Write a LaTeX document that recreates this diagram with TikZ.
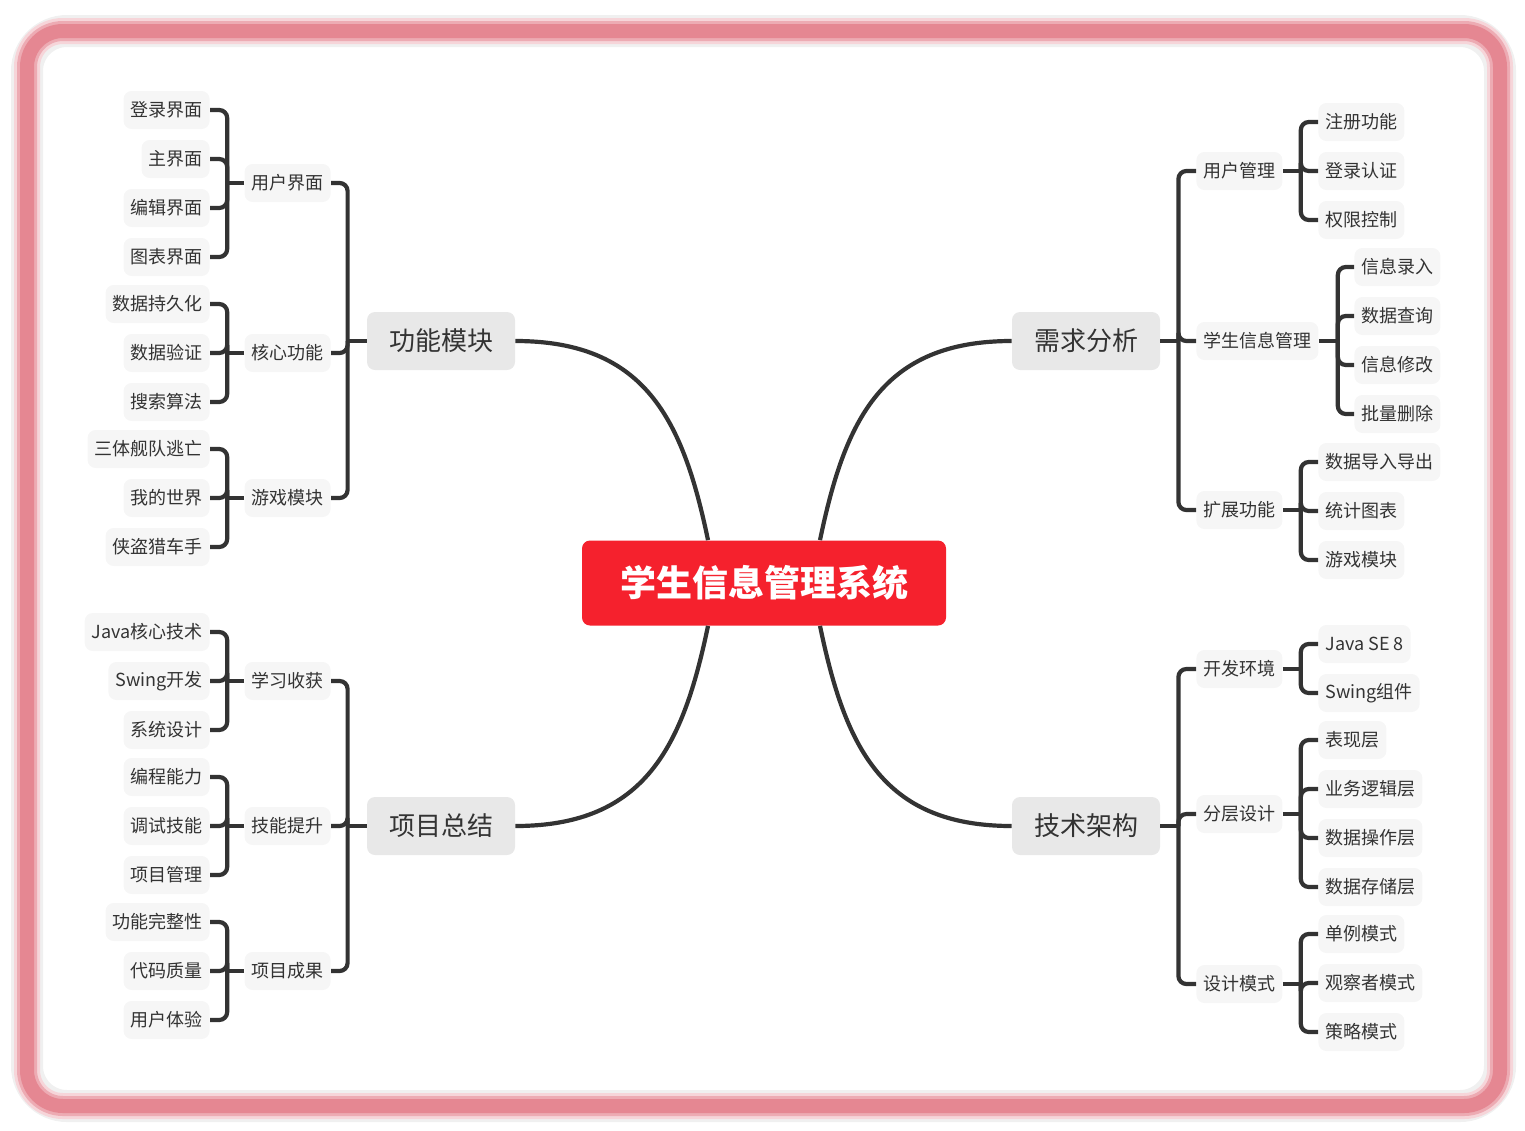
\documentclass[tikz,border=0pt]{standalone}
\usepackage{fontspec}
\setmainfont{Noto Sans CJK SC}
\usetikzlibrary{calc}
\definecolor{ink}{HTML}{333333}
\definecolor{rim}{RGB}{229,135,146}
\definecolor{rootred}{RGB}{245,33,45}
\definecolor{mainfill}{HTML}{E8E8E8}
\definecolor{subfill}{HTML}{F6F6F6}

\begin{document}
\begin{tikzpicture}[x=0.5pt,y=-0.5pt,
  lk/.style={draw=ink,line width=2.1pt,rounded corners=4pt},
  root/.style={fill=rootred,text=white,rounded corners=4pt,inner sep=0pt,font=\fontsize{18pt}{22pt}\selectfont\bfseries,minimum width=182pt,minimum height=42.5pt},
  main/.style={fill=mainfill,text=ink,rounded corners=4pt,inner sep=0pt,font=\fontsize{13pt}{16pt}\selectfont,minimum width=74pt,minimum height=29pt},
  sub/.style={fill=subfill,text=ink,rounded corners=4pt,inner xsep=3.5pt,inner ysep=0pt,font=\fontsize{9pt}{11pt}\selectfont,minimum height=19pt}]
  \useasboundingbox (0,0) rectangle (1525,1130);
  % frame
  \draw[black!6,line width=16pt,rounded corners=20pt](27,31) rectangle (1500,1106);
  \draw[rim!35,line width=13pt,rounded corners=18pt](27,31) rectangle (1500,1106);
  \draw[rim!70,line width=10pt,rounded corners=18pt](27,31) rectangle (1500,1106);
  \draw[rim,line width=7pt,rounded corners=18pt](27,31) rectangle (1500,1106);
  \node[root](c) at (764,583){学生信息管理系统};

  % 功能模块
  \node[main](gn) at (441,341){功能模块};
  \node[sub,anchor=east](yh) at (331,183){用户界面};
  \node[sub,anchor=east](hx) at (331,353){核心功能};
  \node[sub,anchor=east](yx) at (331,498){游戏模块};
  \draw[lk](gn.west)--++(-19,0)coordinate(gnb);
  \foreach \s in {yh,hx,yx} \draw[lk](gnb)|-(\s.east);
  \draw[lk](yh.west)--++(-17,0)coordinate(yhb);
  \foreach \t/\y [count=\i] in {登录界面/110,主界面/159,编辑界面/208,图表界面/257}
    {\node[sub,anchor=east](yh\i) at (210,\y){\t};\draw[lk](yhb)|-(yh\i.east);}
  \draw[lk](hx.west)--++(-17,0)coordinate(hxb);
  \foreach \t/\y [count=\i] in {数据持久化/304,数据验证/353,搜索算法/402}
    {\node[sub,anchor=east](hx\i) at (210,\y){\t};\draw[lk](hxb)|-(hx\i.east);}
  \draw[lk](yx.west)--++(-17,0)coordinate(yxb);
  \foreach \t/\y [count=\i] in {三体舰队逃亡/449,我的世界/498,侠盗猎车手/547}
    {\node[sub,anchor=east](yx\i) at (210,\y){\t};\draw[lk](yxb)|-(yx\i.east);}

  % 项目总结
  \node[main](zj) at (441,826){项目总结};
  \node[sub,anchor=east](sx) at (331,681){学习收获};
  \node[sub,anchor=east](jn) at (331,826){技能提升};
  \node[sub,anchor=east](cg) at (331,971){项目成果};
  \draw[lk](zj.west)--++(-19,0)coordinate(zjb);
  \foreach \s in {sx,jn,cg} \draw[lk](zjb)|-(\s.east);
  \draw[lk](sx.west)--++(-17,0)coordinate(sxb);
  \foreach \t/\y [count=\i] in {Java核心技术/632,Swing开发/681,系统设计/730}
    {\node[sub,anchor=east](sx\i) at (210,\y){\t};\draw[lk](sxb)|-(sx\i.east);}
  \draw[lk](jn.west)--++(-17,0)coordinate(jnb);
  \foreach \t/\y [count=\i] in {编程能力/777,调试技能/826,项目管理/875}
    {\node[sub,anchor=east](jn\i) at (210,\y){\t};\draw[lk](jnb)|-(jn\i.east);}
  \draw[lk](cg.west)--++(-17,0)coordinate(cgb);
  \foreach \t/\y [count=\i] in {功能完整性/922,代码质量/971,用户体验/1020}
    {\node[sub,anchor=east](cg\i) at (210,\y){\t};\draw[lk](cgb)|-(cg\i.east);}

  % 需求分析
  \node[main](xq) at (1086,341){需求分析};
  \node[sub,anchor=west](yg) at (1196,171){用户管理};
  \node[sub,anchor=west](xs) at (1196,341){学生信息管理};
  \node[sub,anchor=west](kz) at (1196,510){扩展功能};
  \draw[lk](xq.east)--++(18,0)coordinate(xqb);
  \foreach \s in {yg,xs,kz} \draw[lk](xqb)|-(\s.west);
  \draw[lk](yg.east)--++(18,0)coordinate(ygb);
  \foreach \t/\y [count=\i] in {注册功能/122,登录认证/171,权限控制/220}
    {\node[sub,anchor=west](yg\i) at (1318,\y){\t};\draw[lk](ygb)|-(yg\i.west);}
  \draw[lk](xs.east)--++(19,0)coordinate(xsb);
  \foreach \t/\y [count=\i] in {信息录入/267,数据查询/316,信息修改/365,批量删除/414}
    {\node[sub,anchor=west](xs\i) at (1354,\y){\t};\draw[lk](xsb)|-(xs\i.west);}
  \draw[lk](kz.east)--++(18,0)coordinate(kzb);
  \foreach \t/\y [count=\i] in {数据导入导出/462,统计图表/511,游戏模块/560}
    {\node[sub,anchor=west](kz\i) at (1318,\y){\t};\draw[lk](kzb)|-(kz\i.west);}

  % 技术架构
  \node[main](jg) at (1086,826){技术架构};
  \node[sub,anchor=west](kf) at (1196,669){开发环境};
  \node[sub,anchor=west](fc) at (1196,814){分层设计};
  \node[sub,anchor=west](ms) at (1196,984){设计模式};
  \draw[lk](jg.east)--++(18,0)coordinate(jgb);
  \foreach \s in {kf,fc,ms} \draw[lk](jgb)|-(\s.west);
  \draw[lk](kf.east)--++(18,0)coordinate(kfb);
  \foreach \t/\y [count=\i] in {Java SE 8/644,Swing组件/693}
    {\node[sub,anchor=west](kf\i) at (1318,\y){\t};\draw[lk](kfb)|-(kf\i.west);}
  \draw[lk](fc.east)--++(18,0)coordinate(fcb);
  \foreach \t/\y [count=\i] in {表现层/740,业务逻辑层/789,数据操作层/838,数据存储层/887}
    {\node[sub,anchor=west](fc\i) at (1318,\y){\t};\draw[lk](fcb)|-(fc\i.west);}
  \draw[lk](ms.east)--++(18,0)coordinate(msb);
  \foreach \t/\y [count=\i] in {单例模式/934,观察者模式/983,策略模式/1032}
    {\node[sub,anchor=west](ms\i) at (1318,\y){\t};\draw[lk](msb)|-(ms\i.west);}

  % root curves
  \draw[lk](gn.east)..controls +(130,0) and +(-25,-120)..($(c.north)+(-56,0)$);
  \draw[lk](zj.east)..controls +(130,0) and +(-25,120)..($(c.south)+(-56,0)$);
  \draw[lk](xq.west)..controls +(-130,0) and +(25,-120)..($(c.north)+(56,0)$);
  \draw[lk](jg.west)..controls +(-130,0) and +(25,120)..($(c.south)+(56,0)$);
\end{tikzpicture}
\end{document}
